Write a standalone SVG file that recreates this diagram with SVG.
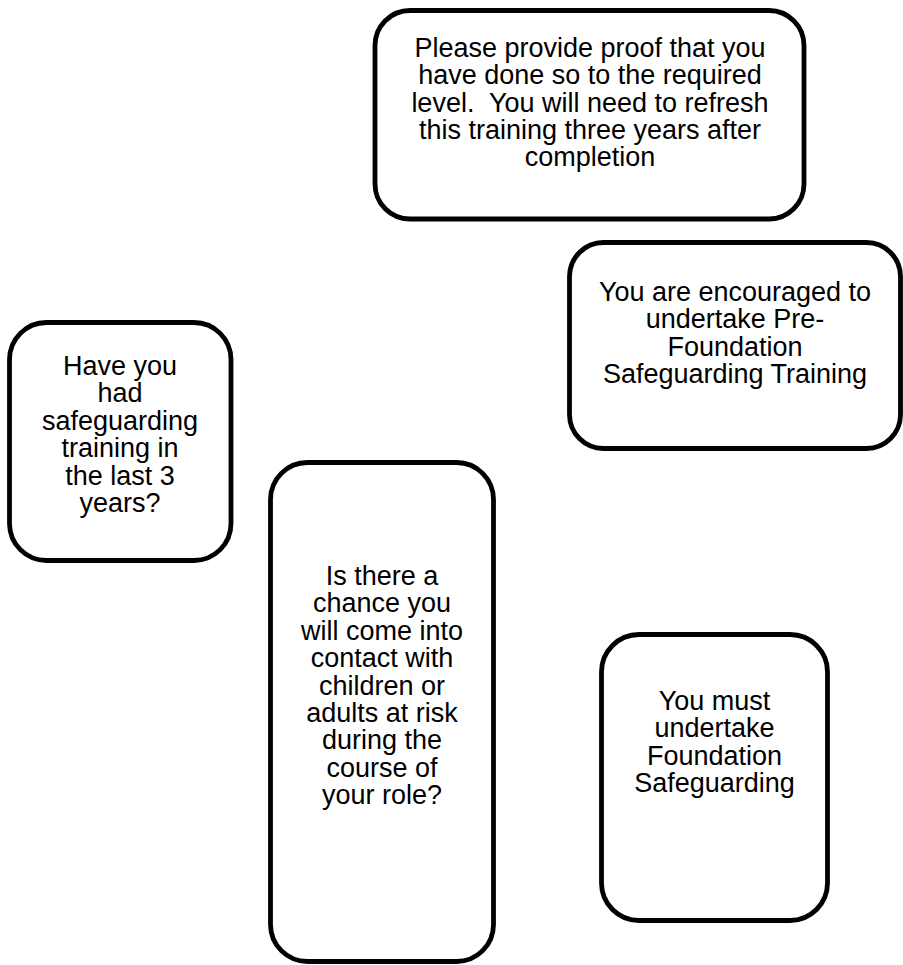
<svg xmlns="http://www.w3.org/2000/svg" width="903" height="965" viewBox="0 0 903 965">
<style>
.box{fill:#ffffff;stroke:#000000;stroke-width:4.8}
.t{font-family:"Liberation Sans",Arial,sans-serif;font-size:27px;fill:#000000;text-anchor:middle;white-space:pre}
</style>
<rect x="0" y="0" width="903" height="965" fill="#ffffff"/>
<g id="connectors"/>
<g id="node-proof">
<rect class="box" x="375" y="10.5" width="429" height="208.5" rx="35" ry="35"/>
<text class="t" x="590" y="56.7">Please provide proof that you</text>
<text class="t" x="590" y="84.1">have done so to the required</text>
<text class="t" x="590" y="111.5">level.  You will need to refresh</text>
<text class="t" x="590" y="138.9">this training three years after</text>
<text class="t" x="590" y="166.3">completion</text>
</g>
<g id="node-encouraged">
<rect class="box" x="569.5" y="242.5" width="331" height="206" rx="34" ry="34"/>
<text class="t" x="735" y="301">You are encouraged to</text>
<text class="t" x="735" y="328.4">undertake Pre-</text>
<text class="t" x="735" y="355.8">Foundation</text>
<text class="t" x="735" y="383.2">Safeguarding Training</text>
</g>
<g id="node-question1">
<rect class="box" x="9.5" y="322.5" width="221.5" height="238" rx="37" ry="37"/>
<text class="t" x="120" y="375">Have you</text>
<text class="t" x="120" y="402.4">had</text>
<text class="t" x="120" y="429.8">safeguarding</text>
<text class="t" x="120" y="457.2">training in</text>
<text class="t" x="120" y="484.6">the last 3</text>
<text class="t" x="120" y="512">years?</text>
</g>
<g id="node-question2">
<rect class="box" x="270.5" y="462.5" width="223" height="499" rx="37" ry="37"/>
<text class="t" x="382" y="585">Is there a</text>
<text class="t" x="382" y="612.4">chance you</text>
<text class="t" x="382" y="639.8">will come into</text>
<text class="t" x="382" y="667.2">contact with</text>
<text class="t" x="382" y="694.6">children or</text>
<text class="t" x="382" y="722">adults at risk</text>
<text class="t" x="382" y="749.4">during the</text>
<text class="t" x="382" y="776.8">course of</text>
<text class="t" x="382" y="804.2">your role?</text>
</g>
<g id="node-must">
<rect class="box" x="601.5" y="634.5" width="226" height="286" rx="37.5" ry="37.5"/>
<text class="t" x="714.5" y="710">You must</text>
<text class="t" x="714.5" y="737.4">undertake</text>
<text class="t" x="714.5" y="764.8">Foundation</text>
<text class="t" x="714.5" y="792.2">Safeguarding</text>
</g>
</svg>
